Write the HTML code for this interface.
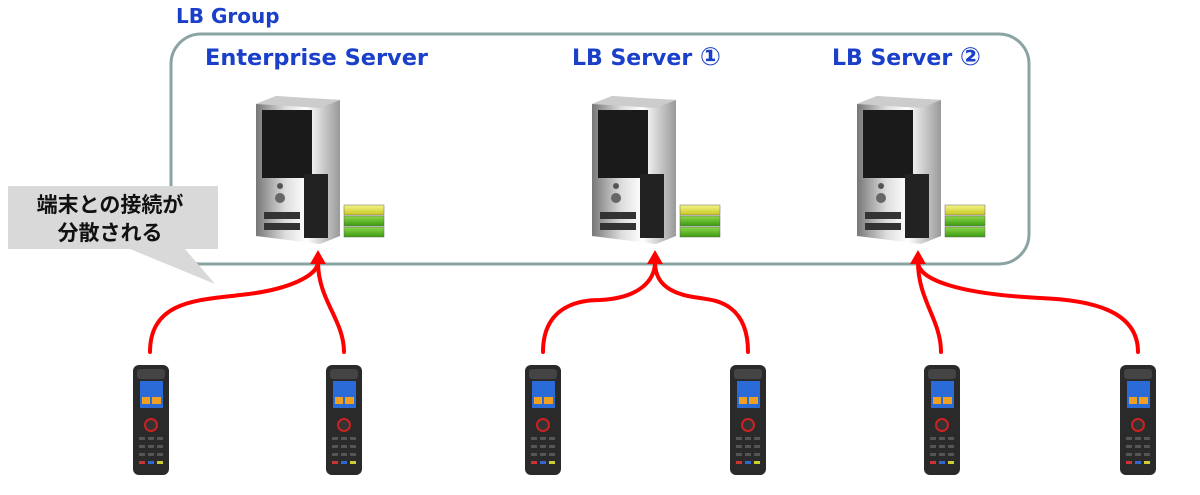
<!DOCTYPE html>
<html><head><meta charset="utf-8"><style>
html,body{margin:0;padding:0;background:#fff;width:1200px;height:495px;overflow:hidden}
svg{display:block}
.t{font-family:"DejaVu Sans","Liberation Sans",sans-serif;font-weight:bold;fill:#1a3fc9}
.j{font-family:"Liberation Sans","Noto Sans CJK JP",sans-serif;font-weight:bold;fill:#111}
</style></head><body>
<svg width="1200" height="495" viewBox="0 0 1200 495">
<defs>
<linearGradient id="tw" x1="0" x2="1"><stop offset="0" stop-color="#777"/><stop offset=".35" stop-color="#ddd"/><stop offset=".6" stop-color="#fff"/><stop offset="1" stop-color="#999"/></linearGradient>
<linearGradient id="gy" x1="0" y1="0" x2="0" y2="1"><stop offset="0" stop-color="#f4f48a"/><stop offset="1" stop-color="#c8c820"/></linearGradient>
<linearGradient id="gg" x1="0" y1="0" x2="0" y2="1"><stop offset="0" stop-color="#8ed84a"/><stop offset="1" stop-color="#3a9a10"/></linearGradient>
<g id="srv">
<path d="M0 8 L20 0 L84 4 L84 140 L64 148 L0 140 Z" fill="url(#tw)"/>
<path d="M0 8 L20 0 L84 4 L64 12 Z" fill="#ccc"/>
<rect x="6" y="14" width="50" height="68" fill="#1a1a1a"/>
<rect x="48" y="78" width="24" height="64" fill="#222"/>
<circle cx="24" cy="90" r="3" fill="#555"/><circle cx="24" cy="102" r="5" fill="#666"/>
<rect x="8" y="116" width="36" height="7" fill="#333"/><rect x="8" y="127" width="36" height="7" fill="#333"/>
<rect x="88" y="109" width="40" height="10" fill="url(#gy)" stroke="#666" stroke-width=".5"/>
<rect x="88" y="120" width="40" height="10" fill="url(#gg)" stroke="#666" stroke-width=".5"/>
<rect x="88" y="131" width="40" height="10" fill="url(#gg)" stroke="#666" stroke-width=".5"/>
</g>
<g id="dev">
<rect x="-18" y="0" width="36" height="110" rx="6" fill="#2a2a2a"/>
<rect x="-14" y="4" width="28" height="10" rx="3" fill="#444"/>
<rect x="-11" y="16" width="23" height="27" fill="#2a6bd8"/>
<rect x="-9" y="32" width="8" height="7" fill="#f0a020"/><rect x="1" y="32" width="9" height="7" fill="#f0a020"/>
<circle cx="0" cy="60" r="6" fill="#333" stroke="#c22" stroke-width="2"/>
<g fill="#555"><rect x="-12" y="72" width="6" height="3"/><rect x="-3" y="72" width="6" height="3"/><rect x="6" y="72" width="6" height="3"/>
<rect x="-12" y="80" width="6" height="3"/><rect x="-3" y="80" width="6" height="3"/><rect x="6" y="80" width="6" height="3"/>
<rect x="-12" y="88" width="6" height="3"/><rect x="-3" y="88" width="6" height="3"/><rect x="6" y="88" width="6" height="3"/></g>
<rect x="-12" y="96" width="6" height="3" fill="#c33"/><rect x="-3" y="96" width="6" height="3" fill="#36c"/><rect x="6" y="96" width="6" height="3" fill="#cc3"/>
</g>
</defs>
<rect x="171" y="34" width="858" height="230" rx="30" fill="none" stroke="#8aa3a3" stroke-width="3"/>
<text class="t" x="176" y="23" font-size="20">LB Group</text>
<text class="t" x="205" y="65" font-size="22" textLength="223" lengthAdjust="spacingAndGlyphs">Enterprise Server</text>
<text class="t" x="572" y="65" font-size="22">LB Server <tspan font-size="25">①</tspan></text>
<text class="t" x="832" y="65" font-size="22">LB Server <tspan font-size="25">②</tspan></text>
<use href="#srv" x="256" y="96"/>
<use href="#srv" x="592" y="96"/>
<use href="#srv" x="857" y="96"/>
<path d="M8 186 H218 V249 H185 L215 284 L130 249 H8 Z" fill="#d9d9d9"/>
<text class="j" x="110" y="212" font-size="21" text-anchor="middle">端末との接続が</text>
<text class="j" x="110" y="240" font-size="21" text-anchor="middle">分散される</text>
<g fill="none" stroke="#f00" stroke-width="4" stroke-linecap="round">
<path d="M150 352 C150 300 200 300 240 295 C290 290 318 275 318 262"/>
<path d="M344 352 C344 320 318 300 318 262"/>
<path d="M543 352 C543 300 590 300 600 300 C640 298 655 280 655 262"/>
<path d="M748 352 C748 300 710 300 700 298 C665 294 655 280 655 262"/>
<path d="M941 352 C941 320 918 300 918 262"/>
<path d="M1138 352 C1138 310 1090 300 1040 298 C960 294 918 280 918 262"/>
</g>
<g fill="#f00"><path d="M310 264 L318 250 L326 264 Z"/><path d="M647 264 L655 250 L663 264 Z"/><path d="M910 264 L918 250 L926 264 Z"/></g>
<use href="#dev" x="151" y="365"/><use href="#dev" x="344" y="365"/><use href="#dev" x="543" y="365"/>
<use href="#dev" x="748" y="365"/><use href="#dev" x="942" y="365"/><use href="#dev" x="1138" y="365"/>
</svg>
</body></html>
